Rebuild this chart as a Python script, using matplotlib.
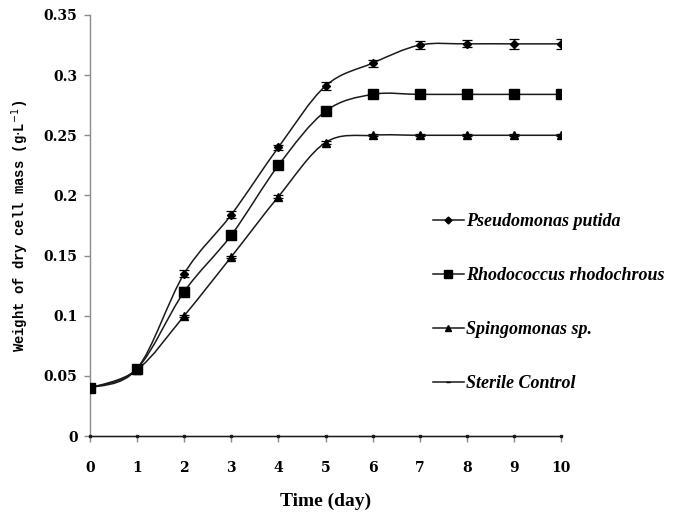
import numpy as np
import matplotlib
matplotlib.use("Agg")
import matplotlib.pyplot as plt
from matplotlib.path import Path
from matplotlib.patches import PathPatch
from matplotlib.lines import Line2D

# Data
days = [0, 1, 2, 3, 4, 5, 6, 7, 8, 9, 10]

pseudomonas = [0.040, 0.056, 0.135, 0.184, 0.240, 0.291, 0.310, 0.325, 0.326, 0.326, 0.326]
pseudomonas_err = [0.001, 0.002, 0.003, 0.003, 0.002, 0.003, 0.003, 0.003, 0.003, 0.004, 0.004]

rhodococcus = [0.040, 0.056, 0.120, 0.167, 0.225, 0.270, 0.284, 0.284, 0.284, 0.284, 0.284]
rhodococcus_err = [0.001, 0.002, 0.004, 0.003, 0.003, 0.003, 0.003, 0.003, 0.003, 0.003, 0.003]

spingomonas = [0.040, 0.055, 0.100, 0.149, 0.199, 0.244, 0.250, 0.250, 0.250, 0.250, 0.250]
spingomonas_err = [0.001, 0.001, 0.001, 0.001, 0.001, 0.001, 0.001, 0.001, 0.001, 0.001, 0.001]

sterile = [0, 0, 0, 0, 0, 0, 0, 0, 0, 0, 0]

labels = ["Pseudomonas putida", "Rhodococcus rhodochrous", "Spingomonas sp.", "Sterile Control"]

y_ticks = [0, 0.05, 0.1, 0.15, 0.2, 0.25, 0.3, 0.35]
y_ticklabels = ["0", "0.05", "0.1", "0.15", "0.2", "0.25", "0.3", "0.35"]

axis_grey = "#8c8c8c"
line_col = "#1a1a1a"


# Excel style smoothed line (cubic bezier through the points)
def smooth_path(xs, ys):
    pts = np.column_stack([xs, ys]).astype(float)
    n = len(pts)
    verts = [pts[0]]
    codes = [Path.MOVETO]
    for i in range(n - 1):
        p0 = pts[i - 1] if i > 0 else pts[i]
        p1 = pts[i]
        p2 = pts[i + 1]
        p3 = pts[i + 2] if i + 2 < n else pts[i + 1]
        c1 = p1 + (p2 - p0) / 6.0
        c2 = p2 - (p3 - p1) / 6.0
        verts += [c1, c2, p2]
        codes += [Path.CURVE4] * 3
    return Path(verts, codes)


fig = plt.figure(figsize=(6.76, 5.13), dpi=100)
ax = fig.add_axes([90 / 676, 77 / 513, 471 / 676, 421 / 513])

series = [
    (pseudomonas, pseudomonas_err, "D", 4.5),
    (rhodococcus, rhodococcus_err, "s", 6.5),
    (spingomonas, spingomonas_err, "^", 5.5),
]

for vals, err, mk, ms in series:
    ax.add_patch(PathPatch(smooth_path(days, vals), fill=False,
                           edgecolor=line_col, lw=1.1, zorder=3))
    ax.errorbar(days, vals, yerr=err, fmt=mk, color="black", ms=ms,
                ecolor="black", elinewidth=0.9, capsize=3.5, capthick=0.9, zorder=4)

ax.plot(days, sterile, marker="s", ms=2, color=line_col, lw=1.0, zorder=3, clip_on=False)

ax.set_xlim(0, 10)
ax.set_ylim(0, 0.35)
ax.set_xticks(days)
ax.set_xticklabels([str(d) for d in days])
ax.set_yticks(y_ticks)
ax.set_yticklabels(y_ticklabels)

for side in ["top", "right"]:
    ax.spines[side].set_visible(False)
for side in ["left", "bottom"]:
    ax.spines[side].set_color(axis_grey)
    ax.spines[side].set_linewidth(1.0)

ax.tick_params(axis="both", direction="out", length=4, width=1.0, color=axis_grey,
               labelsize=10, pad=5)
ax.tick_params(axis="x", pad=14)
for t in ax.get_xticklabels() + ax.get_yticklabels():
    t.set_fontfamily("DejaVu Serif")
    t.set_fontweight("bold")

ax.set_xlabel("Time (day)", fontfamily="Liberation Serif", fontweight="bold",
              fontsize=14, labelpad=13)
ax.set_ylabel("Weight of dry cell mass (g$\\cdot$L$^{-1}$)", fontfamily="Liberation Mono",
              fontweight="bold", fontsize=10, labelpad=9)

handles = [
    Line2D([], [], color=line_col, lw=1.1, marker="D", ms=3.5, mfc="black", mec="black"),
    Line2D([], [], color=line_col, lw=1.1, marker="s", ms=5.5, mfc="black", mec="black"),
    Line2D([], [], color=line_col, lw=1.1, marker="^", ms=4.5, mfc="black", mec="black"),
    Line2D([], [], color=line_col, lw=1.1, marker="_", ms=3, mfc="black", mec="black"),
]
leg = ax.legend(handles, labels, loc="upper left", bbox_to_anchor=(433 / 676, 1 - 213 / 513),
                bbox_transform=fig.transFigure, frameon=False, borderpad=0, borderaxespad=0,
                handlelength=1.7, handletextpad=0.15, labelspacing=2.05,
                prop={"family": "Liberation Serif", "weight": "bold", "style": "italic", "size": 13})

fig.savefig("out.png", dpi=100)
